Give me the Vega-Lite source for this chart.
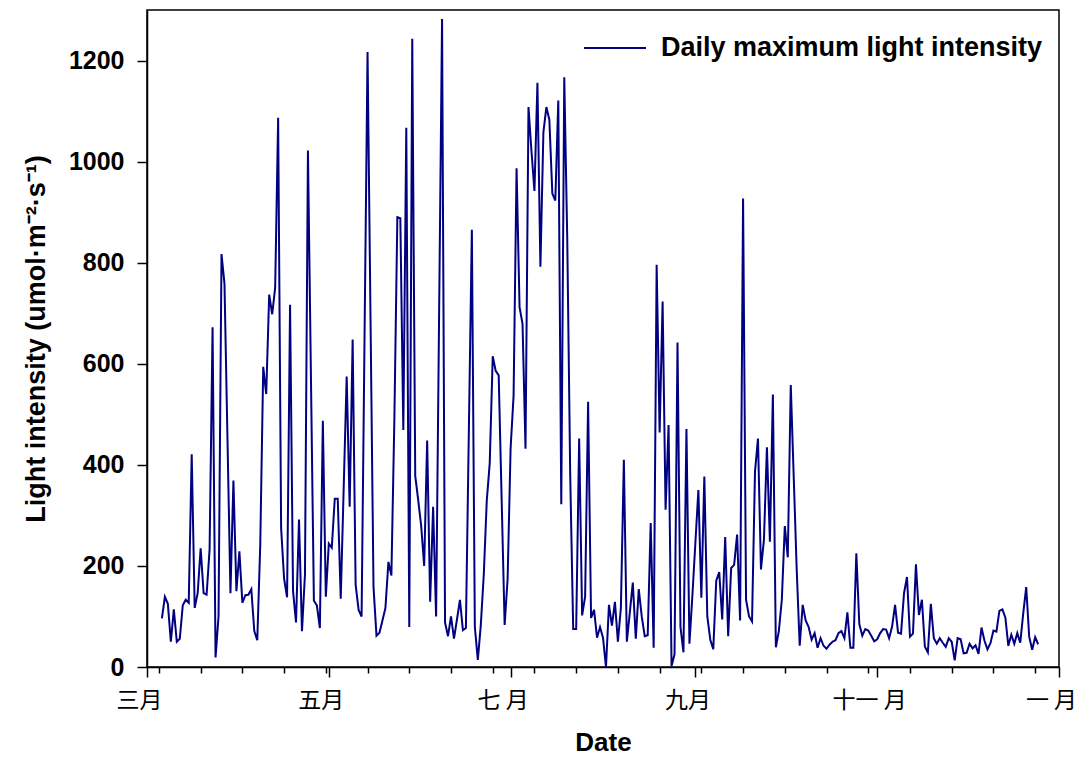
{
"$schema": "https://vega.github.io/schema/vega-lite/v6.json",
"width": 912, "height": 657,
"autosize": {"type": "none"},
"padding": {"left": 147, "top": 10, "right": 26, "bottom": 95},
"background": "white",
"config": {"view": {"stroke": "#000", "strokeWidth": 1.5}, "font": "Liberation Sans"},
"data": {"values": [
{"date":"2021-03-06","v":96},{"date":"2021-03-07","v":139},{"date":"2021-03-08","v":125},{"date":"2021-03-09","v":50},{"date":"2021-03-10","v":114},{"date":"2021-03-11","v":50},{"date":"2021-03-12","v":56},{"date":"2021-03-13","v":122},{"date":"2021-03-14","v":133},{"date":"2021-03-15","v":127},{"date":"2021-03-16","v":421},{"date":"2021-03-17","v":117},{"date":"2021-03-18","v":146},{"date":"2021-03-19","v":235},{"date":"2021-03-20","v":146},{"date":"2021-03-21","v":143},{"date":"2021-03-22","v":233},{"date":"2021-03-23","v":672},{"date":"2021-03-24","v":19},{"date":"2021-03-25","v":100},{"date":"2021-03-26","v":817},{"date":"2021-03-27","v":758},{"date":"2021-03-28","v":452},{"date":"2021-03-29","v":146},{"date":"2021-03-30","v":369},{"date":"2021-03-31","v":150},
{"date":"2021-04-01","v":229},{"date":"2021-04-02","v":127},{"date":"2021-04-03","v":142},{"date":"2021-04-04","v":143},{"date":"2021-04-05","v":154},{"date":"2021-04-06","v":71},{"date":"2021-04-07","v":53},{"date":"2021-04-08","v":242},{"date":"2021-04-09","v":594},{"date":"2021-04-10","v":540},{"date":"2021-04-11","v":737},{"date":"2021-04-12","v":698},{"date":"2021-04-13","v":750},{"date":"2021-04-14","v":1087},{"date":"2021-04-15","v":275},{"date":"2021-04-16","v":175},{"date":"2021-04-17","v":138},{"date":"2021-04-18","v":717},{"date":"2021-04-19","v":150},{"date":"2021-04-20","v":88},{"date":"2021-04-21","v":292},{"date":"2021-04-22","v":71},{"date":"2021-04-23","v":183},{"date":"2021-04-24","v":1022},{"date":"2021-04-25","v":577},{"date":"2021-04-26","v":131},{"date":"2021-04-27","v":122},{"date":"2021-04-28","v":77},{"date":"2021-04-29","v":487},{"date":"2021-04-30","v":139},
{"date":"2021-05-01","v":244},{"date":"2021-05-02","v":236},{"date":"2021-05-03","v":333},{"date":"2021-05-04","v":333},{"date":"2021-05-05","v":135},{"date":"2021-05-06","v":355},{"date":"2021-05-07","v":575},{"date":"2021-05-08","v":317},{"date":"2021-05-09","v":648},{"date":"2021-05-10","v":163},{"date":"2021-05-11","v":113},{"date":"2021-05-12","v":100},{"date":"2021-05-13","v":658},{"date":"2021-05-14","v":1217},{"date":"2021-05-15","v":688},{"date":"2021-05-16","v":158},{"date":"2021-05-17","v":62},{"date":"2021-05-18","v":68},{"date":"2021-05-19","v":92},{"date":"2021-05-20","v":117},{"date":"2021-05-21","v":208},{"date":"2021-05-22","v":181},{"date":"2021-05-23","v":491},{"date":"2021-05-24","v":890},{"date":"2021-05-25","v":888},{"date":"2021-05-26","v":469},{"date":"2021-05-27","v":1067},{"date":"2021-05-28","v":79},{"date":"2021-05-29","v":1243},{"date":"2021-05-30","v":378},{"date":"2021-05-31","v":330},
{"date":"2021-06-01","v":279},{"date":"2021-06-02","v":200},{"date":"2021-06-03","v":448},{"date":"2021-06-04","v":129},{"date":"2021-06-05","v":317},{"date":"2021-06-06","v":100},{"date":"2021-06-07","v":692},{"date":"2021-06-08","v":1282},{"date":"2021-06-09","v":88},{"date":"2021-06-10","v":61},{"date":"2021-06-11","v":100},{"date":"2021-06-12","v":56},{"date":"2021-06-13","v":94},{"date":"2021-06-14","v":133},{"date":"2021-06-15","v":73},{"date":"2021-06-16","v":77},{"date":"2021-06-17","v":471},{"date":"2021-06-18","v":865},{"date":"2021-06-19","v":79},{"date":"2021-06-20","v":14},{"date":"2021-06-21","v":83},{"date":"2021-06-22","v":183},{"date":"2021-06-23","v":329},{"date":"2021-06-24","v":404},{"date":"2021-06-25","v":615},{"date":"2021-06-26","v":586},{"date":"2021-06-27","v":577},{"date":"2021-06-28","v":330},{"date":"2021-06-29","v":83},{"date":"2021-06-30","v":175},
{"date":"2021-07-01","v":433},{"date":"2021-07-02","v":537},{"date":"2021-07-03","v":987},{"date":"2021-07-04","v":712},{"date":"2021-07-05","v":679},{"date":"2021-07-06","v":432},{"date":"2021-07-07","v":1108},{"date":"2021-07-08","v":1021},{"date":"2021-07-09","v":942},{"date":"2021-07-10","v":1156},{"date":"2021-07-11","v":792},{"date":"2021-07-12","v":1058},{"date":"2021-07-13","v":1108},{"date":"2021-07-14","v":1083},{"date":"2021-07-15","v":937},{"date":"2021-07-16","v":923},{"date":"2021-07-17","v":1121},{"date":"2021-07-18","v":322},{"date":"2021-07-19","v":1167},{"date":"2021-07-20","v":850},{"date":"2021-07-21","v":380},{"date":"2021-07-22","v":75},{"date":"2021-07-23","v":75},{"date":"2021-07-24","v":452},{"date":"2021-07-25","v":102},{"date":"2021-07-26","v":139},{"date":"2021-07-27","v":525},{"date":"2021-07-28","v":97},{"date":"2021-07-29","v":113},{"date":"2021-07-30","v":58},{"date":"2021-07-31","v":79},
{"date":"2021-08-01","v":58},{"date":"2021-08-02","v":0},{"date":"2021-08-03","v":123},{"date":"2021-08-04","v":82},{"date":"2021-08-05","v":129},{"date":"2021-08-06","v":50},{"date":"2021-08-07","v":117},{"date":"2021-08-08","v":410},{"date":"2021-08-09","v":50},{"date":"2021-08-10","v":108},{"date":"2021-08-11","v":167},{"date":"2021-08-12","v":56},{"date":"2021-08-13","v":154},{"date":"2021-08-14","v":100},{"date":"2021-08-15","v":61},{"date":"2021-08-16","v":63},{"date":"2021-08-17","v":285},{"date":"2021-08-18","v":38},{"date":"2021-08-19","v":796},{"date":"2021-08-20","v":464},{"date":"2021-08-21","v":723},{"date":"2021-08-22","v":311},{"date":"2021-08-23","v":479},{"date":"2021-08-24","v":2},{"date":"2021-08-25","v":25},{"date":"2021-08-26","v":642},{"date":"2021-08-27","v":79},{"date":"2021-08-28","v":29},{"date":"2021-08-29","v":471},{"date":"2021-08-30","v":46},{"date":"2021-08-31","v":142},
{"date":"2021-09-01","v":246},{"date":"2021-09-02","v":350},{"date":"2021-09-03","v":137},{"date":"2021-09-04","v":377},{"date":"2021-09-05","v":100},{"date":"2021-09-06","v":54},{"date":"2021-09-07","v":35},{"date":"2021-09-08","v":171},{"date":"2021-09-09","v":188},{"date":"2021-09-10","v":94},{"date":"2021-09-11","v":257},{"date":"2021-09-12","v":61},{"date":"2021-09-13","v":196},{"date":"2021-09-14","v":202},{"date":"2021-09-15","v":262},{"date":"2021-09-16","v":92},{"date":"2021-09-17","v":927},{"date":"2021-09-18","v":133},{"date":"2021-09-19","v":100},{"date":"2021-09-20","v":90},{"date":"2021-09-21","v":387},{"date":"2021-09-22","v":452},{"date":"2021-09-23","v":193},{"date":"2021-09-24","v":252},{"date":"2021-09-25","v":435},{"date":"2021-09-26","v":248},{"date":"2021-09-27","v":539},{"date":"2021-09-28","v":39},{"date":"2021-09-29","v":71},{"date":"2021-09-30","v":133},
{"date":"2021-10-01","v":279},{"date":"2021-10-02","v":217},{"date":"2021-10-03","v":558},{"date":"2021-10-04","v":375},{"date":"2021-10-05","v":192},{"date":"2021-10-06","v":42},{"date":"2021-10-07","v":123},{"date":"2021-10-08","v":92},{"date":"2021-10-09","v":79},{"date":"2021-10-10","v":54},{"date":"2021-10-11","v":67},{"date":"2021-10-12","v":38},{"date":"2021-10-13","v":57},{"date":"2021-10-14","v":42},{"date":"2021-10-15","v":36},{"date":"2021-10-16","v":44},{"date":"2021-10-17","v":50},{"date":"2021-10-18","v":53},{"date":"2021-10-19","v":67},{"date":"2021-10-20","v":71},{"date":"2021-10-21","v":57},{"date":"2021-10-22","v":108},{"date":"2021-10-23","v":38},{"date":"2021-10-24","v":38},{"date":"2021-10-25","v":225},{"date":"2021-10-26","v":85},{"date":"2021-10-27","v":62},{"date":"2021-10-28","v":75},{"date":"2021-10-29","v":72},{"date":"2021-10-30","v":62},{"date":"2021-10-31","v":51},
{"date":"2021-11-01","v":55},{"date":"2021-11-02","v":67},{"date":"2021-11-03","v":75},{"date":"2021-11-04","v":74},{"date":"2021-11-05","v":57},{"date":"2021-11-06","v":80},{"date":"2021-11-07","v":123},{"date":"2021-11-08","v":68},{"date":"2021-11-09","v":66},{"date":"2021-11-10","v":146},{"date":"2021-11-11","v":178},{"date":"2021-11-12","v":60},{"date":"2021-11-13","v":66},{"date":"2021-11-14","v":203},{"date":"2021-11-15","v":103},{"date":"2021-11-16","v":133},{"date":"2021-11-17","v":40},{"date":"2021-11-18","v":29},{"date":"2021-11-19","v":125},{"date":"2021-11-20","v":57},{"date":"2021-11-21","v":46},{"date":"2021-11-22","v":57},{"date":"2021-11-23","v":48},{"date":"2021-11-24","v":40},{"date":"2021-11-25","v":57},{"date":"2021-11-26","v":50},{"date":"2021-11-27","v":13},{"date":"2021-11-28","v":57},{"date":"2021-11-29","v":55},{"date":"2021-11-30","v":27},
{"date":"2021-12-01","v":28},{"date":"2021-12-02","v":46},{"date":"2021-12-03","v":37},{"date":"2021-12-04","v":43},{"date":"2021-12-05","v":26},{"date":"2021-12-06","v":78},{"date":"2021-12-07","v":52},{"date":"2021-12-08","v":35},{"date":"2021-12-09","v":47},{"date":"2021-12-10","v":72},{"date":"2021-12-11","v":70},{"date":"2021-12-12","v":111},{"date":"2021-12-13","v":114},{"date":"2021-12-14","v":98},{"date":"2021-12-15","v":42},{"date":"2021-12-16","v":64},{"date":"2021-12-17","v":46},{"date":"2021-12-18","v":67},{"date":"2021-12-19","v":48},{"date":"2021-12-20","v":106},{"date":"2021-12-21","v":158},{"date":"2021-12-22","v":60},{"date":"2021-12-23","v":34},{"date":"2021-12-24","v":59},{"date":"2021-12-25","v":45}
]},
"mark": {"type": "line", "strokeWidth": 2, "interpolate": "linear", "clip": true},
"encoding": {
  "x": {"field": "date", "type": "temporal",
    "scale": {"type": "utc", "domain": [{"year": 2021, "month": 3, "date": 1, "utc": true}, {"year": 2022, "month": 1, "date": 1, "utc": true}]},
    "axis": {
      "title": "Date", "titleFont": "Liberation Sans", "titleFontSize": 26, "titleFontWeight": "bold", "titleColor": "#000", "titlePadding": 17,
      "grid": false, "domainColor": "#000", "domainWidth": 1.5, "tickColor": "#000", "tickWidth": 1.5,
      "tickSize": {"condition": {"test": "utcdate(datum.value) == 1 && utcmonth(datum.value) % 2 == 0", "value": 10}, "value": 6},
      "values": [
        {"year": 2021, "month": 3, "date": 1, "utc": true},
        {"year": 2021, "month": 3, "date": 5, "utc": true},
        {"year": 2021, "month": 3, "date": 19, "utc": true},
        {"year": 2021, "month": 4, "date": 2, "utc": true},
        {"year": 2021, "month": 4, "date": 16, "utc": true},
        {"year": 2021, "month": 4, "date": 30, "utc": true},
        {"year": 2021, "month": 5, "date": 1, "utc": true},
        {"year": 2021, "month": 5, "date": 14, "utc": true},
        {"year": 2021, "month": 5, "date": 28, "utc": true},
        {"year": 2021, "month": 6, "date": 11, "utc": true},
        {"year": 2021, "month": 6, "date": 25, "utc": true},
        {"year": 2021, "month": 7, "date": 1, "utc": true},
        {"year": 2021, "month": 7, "date": 9, "utc": true},
        {"year": 2021, "month": 7, "date": 23, "utc": true},
        {"year": 2021, "month": 8, "date": 6, "utc": true},
        {"year": 2021, "month": 8, "date": 20, "utc": true},
        {"year": 2021, "month": 9, "date": 1, "utc": true},
        {"year": 2021, "month": 9, "date": 3, "utc": true},
        {"year": 2021, "month": 9, "date": 17, "utc": true},
        {"year": 2021, "month": 10, "date": 1, "utc": true},
        {"year": 2021, "month": 10, "date": 15, "utc": true},
        {"year": 2021, "month": 10, "date": 29, "utc": true},
        {"year": 2021, "month": 11, "date": 1, "utc": true},
        {"year": 2021, "month": 11, "date": 12, "utc": true},
        {"year": 2021, "month": 11, "date": 26, "utc": true},
        {"year": 2021, "month": 12, "date": 10, "utc": true},
        {"year": 2021, "month": 12, "date": 24, "utc": true},
        {"year": 2022, "month": 1, "date": 1, "utc": true}
      ],
      "labelExpr": "utcdate(datum.value) == 1 ? ['一 月','','三月','','五月','','七 月','','九月','','十一 月',''][utcmonth(datum.value)] : ''",
      "labelFont": "Noto Sans CJK SC", "labelFontSize": 23, "labelColor": "#000", "labelPadding": 12, "labelOffset": -8,
      "labelOverlap": false, "labelFlush": false, "labelBound": false
    }
  },
  "y": {"field": "v", "type": "quantitative",
    "scale": {"domain": [0, 1300], "nice": false, "zero": true},
    "axis": {
      "title": "Light intensity (umol·m⁻²·s⁻¹)", "titleFont": "Liberation Sans", "titleFontSize": 27, "titleFontWeight": "bold", "titleColor": "#000", "titlePadding": 18,
      "values": [0, 200, 400, 600, 800, 1000, 1200], "format": "d",
      "grid": false, "domainColor": "#000", "domainWidth": 1.5, "tickColor": "#000", "tickWidth": 1.5, "tickSize": 10,
      "labelFont": "Liberation Sans", "labelFontSize": 25, "labelFontWeight": "bold", "labelColor": "#000", "labelPadding": 13
    }
  },
  "color": {"datum": "Daily maximum light intensity", "type": "nominal",
    "scale": {"range": ["#000080"]},
    "legend": {"orient": "none", "legendX": 436, "legendY": 6, "title": null, "padding": 0,
      "symbolType": "stroke", "symbolSize": 3844, "symbolStrokeWidth": 2,
      "labelFont": "Liberation Sans", "labelFontSize": 27, "labelFontWeight": "bold", "labelColor": "#000", "labelOffset": 14, "labelLimit": 600}
  }
}
}
